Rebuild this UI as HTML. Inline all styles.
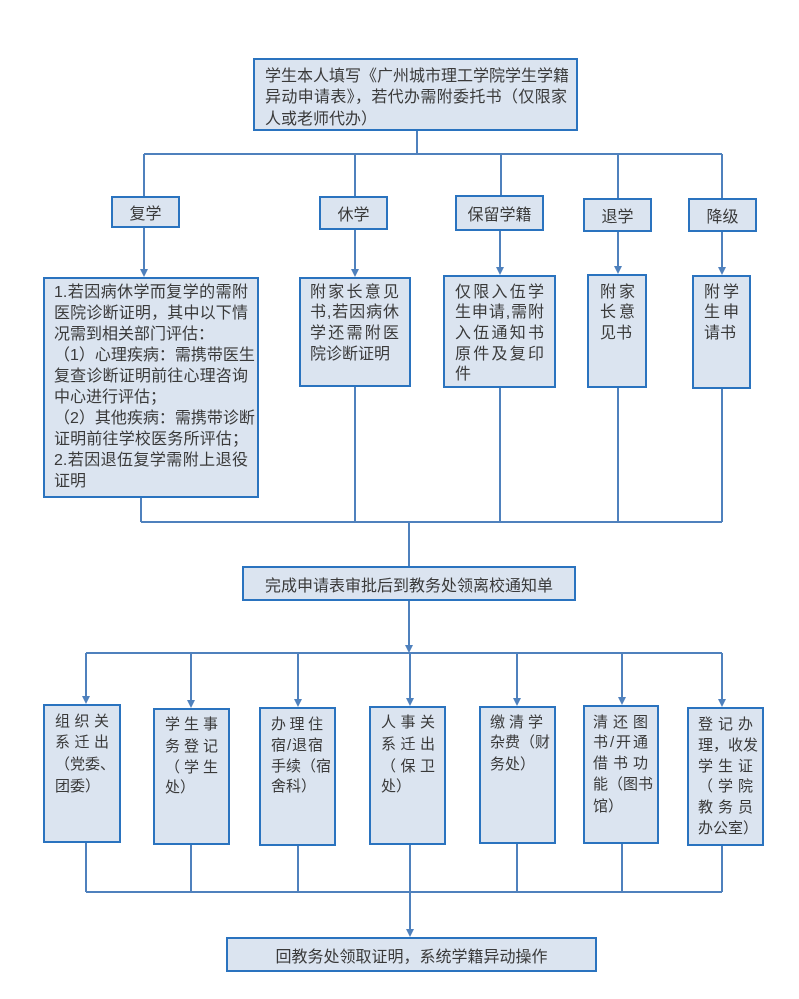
<!DOCTYPE html>
<html><head><meta charset="utf-8"><style>
html,body{margin:0;padding:0;background:#fff;}
body{width:799px;height:999px;position:relative;overflow:hidden;font-family:"Liberation Sans","Noto Sans CJK SC",sans-serif;color:#3a3a3a;}
.b{position:absolute;box-sizing:border-box;background:#dbe4f0;border:2.5px solid #2a73bf;}
.c{display:flex;align-items:center;justify-content:center;font-size:16px;}
.l{position:absolute;white-space:nowrap;height:22px;line-height:22px;font-size:16px;}
.s{font-size:15px;}
.j{text-align:justify;text-align-last:justify;}
svg{position:absolute;left:0;top:0;}
</style></head><body>
<svg width="799" height="999" viewBox="0 0 799 999">
<g stroke="#4f81bd" stroke-width="2" fill="none">
<line x1="417" y1="131" x2="417" y2="154"/>
<line x1="144" y1="154" x2="722" y2="154"/>
<line x1="144" y1="154" x2="144" y2="197"/>
<line x1="355" y1="154" x2="355" y2="197"/>
<line x1="501" y1="154" x2="501" y2="196"/>
<line x1="618" y1="154" x2="618" y2="199"/>
<line x1="722" y1="154" x2="722" y2="199"/>
<line x1="144" y1="228" x2="144" y2="270"/>
<line x1="355" y1="230" x2="355" y2="270"/>
<line x1="500" y1="231" x2="500" y2="268"/>
<line x1="618" y1="232" x2="618" y2="267"/>
<line x1="722" y1="232" x2="722" y2="268"/>
<line x1="141" y1="498" x2="141" y2="522"/>
<line x1="355" y1="387" x2="355" y2="522"/>
<line x1="500" y1="388" x2="500" y2="522"/>
<line x1="618" y1="388" x2="618" y2="522"/>
<line x1="722" y1="389" x2="722" y2="522"/>
<line x1="141" y1="522" x2="722" y2="522"/>
<line x1="409" y1="522" x2="409" y2="566"/>
<line x1="409" y1="601" x2="409" y2="646"/>
<line x1="86" y1="653" x2="722" y2="653"/>
<line x1="86" y1="653" x2="86" y2="697"/>
<line x1="191" y1="653" x2="191" y2="701"/>
<line x1="298" y1="653" x2="298" y2="700"/>
<line x1="410" y1="653" x2="410" y2="699"/>
<line x1="517" y1="653" x2="517" y2="699"/>
<line x1="622" y1="653" x2="622" y2="698"/>
<line x1="722" y1="653" x2="722" y2="700"/>
<line x1="86" y1="843" x2="86" y2="892"/>
<line x1="191" y1="845" x2="191" y2="892"/>
<line x1="298" y1="846" x2="298" y2="892"/>
<line x1="410" y1="845" x2="410" y2="892"/>
<line x1="517" y1="844" x2="517" y2="892"/>
<line x1="622" y1="844" x2="622" y2="892"/>
<line x1="722" y1="846" x2="722" y2="892"/>
<line x1="86" y1="892" x2="722" y2="892"/>
<line x1="410" y1="892" x2="410" y2="930"/>
</g>
<g fill="#4f81bd">
<polygon points="140,269 148,269 144,277"/>
<polygon points="351,269 359,269 355,277"/>
<polygon points="496,267 504,267 500,275"/>
<polygon points="614,266 622,266 618,274"/>
<polygon points="718,267 726,267 722,275"/>
<polygon points="405,645 413,645 409,653"/>
<polygon points="82,696 90,696 86,704"/>
<polygon points="187,700 195,700 191,708"/>
<polygon points="294,699 302,699 298,707"/>
<polygon points="406,698 414,698 410,706"/>
<polygon points="513,698 521,698 517,706"/>
<polygon points="618,697 626,697 622,705"/>
<polygon points="718,699 726,699 722,707"/>
<polygon points="406,929 414,929 410,937"/>
</g>
</svg>

<!-- top box -->
<div class="b" style="left:253px;top:58px;width:325px;height:73px;"></div>
<div class="l j" style="left:265px;top:66px;width:302px;">学生本人填写《广州城市理工学院学生学籍</div>
<div class="l j" style="left:265px;top:87px;width:302px;">异动申请表》，若代办需附委托书（仅限家</div>
<div class="l" style="left:265px;top:109px;">人或老师代办）</div>

<!-- category boxes -->
<div class="b c" style="left:111px;top:196px;width:69px;height:32px;">复学</div>
<div class="b c" style="left:319px;top:196px;width:69px;height:34px;">休学</div>
<div class="b c" style="left:455px;top:195px;width:89px;height:36px;">保留学籍</div>
<div class="b c" style="left:583px;top:198px;width:69px;height:34px;">退学</div>
<div class="b c" style="left:688px;top:198px;width:69px;height:34px;">降级</div>

<!-- detail boxes -->
<div class="b" style="left:43px;top:277px;width:216px;height:221px;"></div>
<div class="l j" style="left:54px;top:282px;width:194px;">1.若因病休学而复学的需附</div>
<div class="l j" style="left:54px;top:303px;width:194px;">医院诊断证明，其中以下情</div>
<div class="l" style="left:54px;top:324px;">况需到相关部门评估：</div>
<div class="l j" style="left:54px;top:345px;width:194px;">（1）心理疾病：需携带医生</div>
<div class="l j" style="left:54px;top:366px;width:194px;">复查诊断证明前往心理咨询</div>
<div class="l" style="left:54px;top:387px;">中心进行评估；</div>
<div class="l j" style="left:54px;top:408px;width:194px;">（2）其他疾病：需携带诊断</div>
<div class="l j" style="left:54px;top:429px;width:194px;">证明前往学校医务所评估；</div>
<div class="l j" style="left:54px;top:450px;width:194px;">2.若因退伍复学需附上退役</div>
<div class="l" style="left:54px;top:471px;">证明</div>

<div class="b" style="left:299px;top:277px;width:112px;height:110px;"></div>
<div class="l j" style="left:310px;top:282px;width:89px;">附家长意见</div>
<div class="l j" style="left:310px;top:302px;width:89px;">书,若因病休</div>
<div class="l j" style="left:310px;top:323px;width:89px;">学还需附医</div>
<div class="l" style="left:310px;top:344px;">院诊断证明</div>

<div class="b" style="left:443px;top:275px;width:113px;height:113px;"></div>
<div class="l j" style="left:455px;top:282px;width:89px;">仅限入伍学</div>
<div class="l j" style="left:455px;top:302px;width:89px;">生申请,需附</div>
<div class="l j" style="left:455px;top:323px;width:89px;">入伍通知书</div>
<div class="l j" style="left:455px;top:344px;width:89px;">原件及复印</div>
<div class="l" style="left:455px;top:364px;">件</div>

<div class="b" style="left:587px;top:274px;width:60px;height:114px;"></div>
<div class="l j" style="left:600px;top:282px;width:35px;">附家</div>
<div class="l j" style="left:600px;top:302px;width:35px;">长意</div>
<div class="l" style="left:600px;top:323px;">见书</div>

<div class="b" style="left:692px;top:275px;width:59px;height:114px;"></div>
<div class="l j" style="left:704px;top:282px;width:35px;">附学</div>
<div class="l j" style="left:704px;top:302px;width:35px;">生申</div>
<div class="l" style="left:704px;top:323px;">请书</div>

<!-- middle box -->
<div class="b c" style="left:242px;top:566px;width:334px;height:35px;">完成申请表审批后到教务处领离校通知单</div>

<!-- bottom row -->
<div class="b" style="left:43px;top:704px;width:78px;height:139px;"></div>
<div class="l s j" style="left:55px;top:711px;width:54px;">组织关</div>
<div class="l s j" style="left:55px;top:732px;width:54px;">系迁出</div>
<div class="l s j" style="left:55px;top:754px;width:54px;">（党委、</div>
<div class="l s" style="left:55px;top:776px;">团委）</div>

<div class="b" style="left:153px;top:708px;width:77px;height:137px;"></div>
<div class="l s j" style="left:165px;top:714px;width:53px;">学生事</div>
<div class="l s j" style="left:165px;top:736px;width:53px;">务登记</div>
<div class="l s j" style="left:165px;top:757px;width:53px;">（学生</div>
<div class="l s" style="left:165px;top:777px;">处）</div>

<div class="b" style="left:259px;top:707px;width:77px;height:139px;"></div>
<div class="l s j" style="left:271px;top:714px;width:52px;">办理住</div>
<div class="l s j" style="left:271px;top:735px;width:52px;">宿/退宿</div>
<div class="l s j" style="left:271px;top:756px;width:52px;">手续（宿</div>
<div class="l s" style="left:271px;top:776px;">舍科）</div>

<div class="b" style="left:369px;top:706px;width:77px;height:139px;"></div>
<div class="l s j" style="left:381px;top:712px;width:54px;">人事关</div>
<div class="l s j" style="left:381px;top:734px;width:54px;">系迁出</div>
<div class="l s j" style="left:381px;top:756px;width:54px;">（保卫</div>
<div class="l s" style="left:381px;top:776px;">处）</div>

<div class="b" style="left:479px;top:706px;width:77px;height:138px;"></div>
<div class="l s j" style="left:490px;top:712px;width:53px;">缴清学</div>
<div class="l s j" style="left:490px;top:732px;width:53px;">杂费（财</div>
<div class="l s" style="left:490px;top:754px;">务处）</div>

<div class="b" style="left:583px;top:705px;width:76px;height:139px;"></div>
<div class="l s j" style="left:593px;top:712px;width:55px;">清还图</div>
<div class="l s j" style="left:593px;top:732px;width:55px;">书/开通</div>
<div class="l s j" style="left:593px;top:753px;width:55px;">借书功</div>
<div class="l s j" style="left:593px;top:774px;width:55px;">能（图书</div>
<div class="l s" style="left:593px;top:796px;">馆）</div>

<div class="b" style="left:687px;top:707px;width:77px;height:139px;"></div>
<div class="l s j" style="left:698px;top:714px;width:55px;">登记办</div>
<div class="l s j" style="left:698px;top:735px;width:55px;">理，收发</div>
<div class="l s j" style="left:698px;top:756px;width:55px;">学生证</div>
<div class="l s j" style="left:698px;top:776px;width:55px;">（学院</div>
<div class="l s j" style="left:698px;top:797px;width:55px;">教务员</div>
<div class="l s" style="left:698px;top:818px;">办公室）</div>

<!-- final box -->
<div class="b c" style="left:226px;top:937px;width:371px;height:35px;">回教务处领取证明，系统学籍异动操作</div>
</body></html>
